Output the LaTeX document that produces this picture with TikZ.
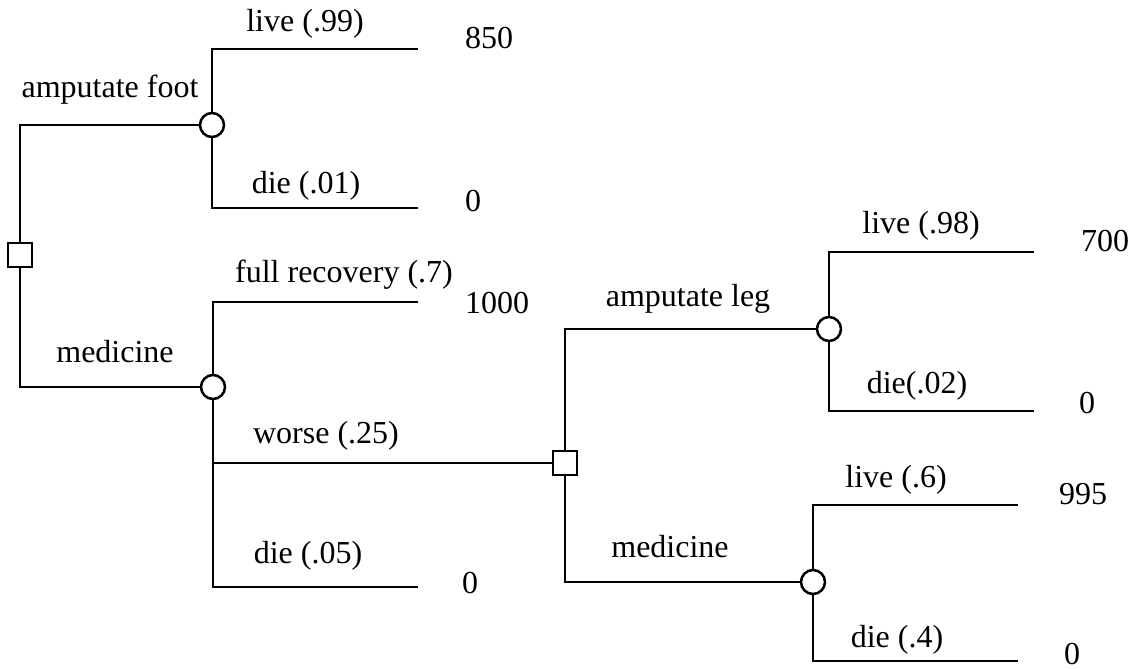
\documentclass[tikz,border=0pt]{standalone}
\usepackage{fontspec}
\setmainfont{Liberation Serif}
\begin{document}
\begin{tikzpicture}[x=1pt,y=-1pt,
  line width=2.5pt,
  chance/.style={circle,draw,fill=white,minimum size=24pt,inner sep=0pt,line width=2.5pt},
  decision/.style={rectangle,draw,fill=white,minimum size=24pt,inner sep=0pt,line width=2.3pt},
  lbl/.style={anchor=base,inner sep=0pt,font=\fontsize{32}{38}\selectfont}]
\useasboundingbox (0,0) rectangle (1133,669);
% nodes
\node[decision] (D0) at (20,255) {};
\node[chance] (C1) at (212,125) {};
\node[chance] (C2) at (213,387) {};
\node[decision] (D1) at (565,463) {};
\node[chance] (C3) at (829,329) {};
\node[chance] (C4) at (813,582) {};
% junction coordinates
\coordinate (r1) at (20,125);
\coordinate (r2) at (20,387);
\coordinate (a1) at (212,49);  \coordinate (a1e) at (418,49);
\coordinate (a2) at (212,208); \coordinate (a2e) at (418,208);
\coordinate (b1) at (213,302); \coordinate (b1e) at (418,302);
\coordinate (b2) at (213,463);
\coordinate (b3) at (213,587); \coordinate (b3e) at (418,587);
\coordinate (s1) at (565,329);
\coordinate (s2) at (565,582);
\coordinate (c1) at (829,252); \coordinate (c1e) at (1034,252);
\coordinate (c2) at (829,411); \coordinate (c2e) at (1034,411);
\coordinate (d1) at (813,505); \coordinate (d1e) at (1018,505);
\coordinate (d2) at (813,661); \coordinate (d2e) at (1018,661);
% connectors
\draw (D0.north) -- (r1) -- (C1.west);
\draw (D0.south) -- (r2) -- (C2.west);
\draw (C1.north) -- (a1) -- (a1e);
\draw (C1.south) -- (a2) -- (a2e);
\draw (C2.north) -- (b1) -- (b1e);
\draw (C2.south) -- (b3) -- (b3e);
\draw (b2) -- (D1.west);
\draw (D1.north) -- (s1) -- (C3.west);
\draw (D1.south) -- (s2) -- (C4.west);
\draw (C3.north) -- (c1) -- (c1e);
\draw (C3.south) -- (c2) -- (c2e);
\draw (C4.north) -- (d1) -- (d1e);
\draw (C4.south) -- (d2) -- (d2e);
% labels
\node[lbl] (l1) at (110,98) {amputate foot};
\node[lbl] (l2) at (305,32) {live (.99)};
\node[lbl] (l3) at (306,193) {die (.01)};
\node[lbl] (l4) at (344,282) {full recovery (.7)};
\node[lbl] (l5) at (115,362) {medicine};
\node[lbl] (l6) at (326,443) {worse (.25)};
\node[lbl] (l7) at (308,563) {die (.05)};
\node[lbl] (l8) at (688,306) {amputate leg};
\node[lbl] (l9) at (921,233) {live (.98)};
\node[lbl] (l10) at (917,393) {die(.02)};
\node[lbl] (l11) at (670,557) {medicine};
\node[lbl] (l12) at (896,487) {live (.6)};
\node[lbl] (l13) at (897,647) {die (.4)};
% payoffs
\node[lbl] (v1) at (489,49) {850};
\node[lbl] (v2) at (473,211) {0};
\node[lbl] (v3) at (497,313) {1000};
\node[lbl] (v4) at (470,593) {0};
\node[lbl] (v5) at (1105,251) {700};
\node[lbl] (v6) at (1087,413) {0};
\node[lbl] (v7) at (1083,504) {995};
\node[lbl] (v8) at (1072,664) {0};
\end{tikzpicture}
\end{document}
